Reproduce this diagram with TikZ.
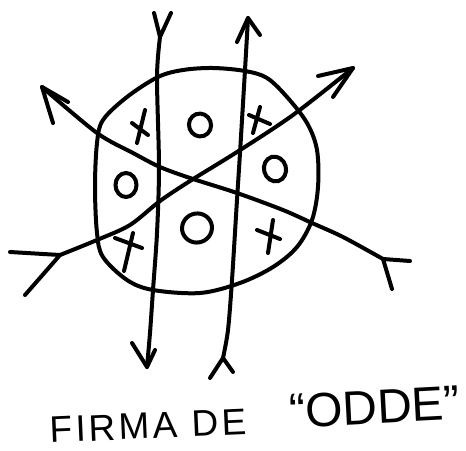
\documentclass[tikz,border=0pt]{standalone}
\usepackage{fontspec}
\setmainfont{Liberation Sans}
\begin{document}
\begin{tikzpicture}[x=1pt,y=-1pt,
  pen/.style={line width=4pt,line cap=round,line join=round},
  xomark/.style={line width=4pt,line cap=round}]
\useasboundingbox (0,0) rectangle (466,450);
% circle
\draw[pen] plot[smooth cycle,tension=0.55] coordinates {
 (158,77)(183,70)(213,68)(245,71)(267,78)(287,97)(307,123)(317,150)(318,187)(312,220)(297,247)(273,267)(240,283)(200,293)(153,290)(127,280)(103,257)(97,233)(95,187)(97,143)(103,120)(127,97)};
% left vertical line (fork top, arrow bottom)
\draw[pen] plot[smooth,tension=0.5] coordinates {(160,37)(157,77)(159,167)(157,233)(153,290)(150,333)(147,367)};
\draw[pen] (154,13) -- (160,37) -- (171,13);
\draw[pen] (132,343) -- (147,367) -- (155,350);
% right vertical line (arrow top, fork bottom)
\draw[pen] plot[smooth,tension=0.5] coordinates {(248,18)(245,70)(240,153)(237,200)(232,280)(228,330)(223,358)};
\draw[pen] (237,42) -- (248,18) -- (260,35);
\draw[pen] (210,378) -- (223,358) -- (233,372);
% diagonal 1
\draw[pen] plot[smooth,tension=0.5] coordinates {(42,87)(97,133)(133,153)(160,167)(190,178)(237,193)(283,210)(312,223)(343,237)(383,259)};
\draw[pen] (53,123) -- (42,87) -- (68,102);
\draw[pen] (410,261) -- (383,259) -- (392,289);
% diagonal 2
\draw[pen] plot[smooth,tension=0.5] coordinates {(60,255)(97,240)(130,225)(160,201)(190,181)(237,152)(293,115)(353,68)};
\draw[pen] (10,252) -- (60,255) -- (25,295);
\draw[pen] (318,76) -- (353,68) -- (333,97);
% X marks
\draw[xomark] (145,110) -- (137,143) (132,123) -- (148,135);
\draw[xomark] (260,107) -- (253,133) (249,115) -- (270,124);
\draw[xomark] (133,233) -- (124,271) (115,238) -- (142,248);
\draw[xomark] (273,220) -- (268,253) (257,230) -- (280,239);
% O marks
\draw[xomark] (200,125) ellipse [x radius=11,y radius=11.5,rotate=20];
\draw[xomark] (126,185) ellipse [x radius=10.5,y radius=12];
\draw[xomark] (275,169) ellipse [x radius=11,y radius=12.5,rotate=15];
\draw[xomark] (197,228) ellipse [x radius=15,y radius=14.5,rotate=20];
% caption
\node[anchor=base west,inner sep=0,rotate=2.5] (firma) at (50,443)
  {\fontsize{37}{37}\selectfont\addfontfeature{LetterSpace=9}FIRMA DE};
\node[anchor=base west,inner sep=0,rotate=3] (odde) at (290,428)
  {\fontsize{48}{48}\selectfont “ODDE”};
\end{tikzpicture}
\end{document}
